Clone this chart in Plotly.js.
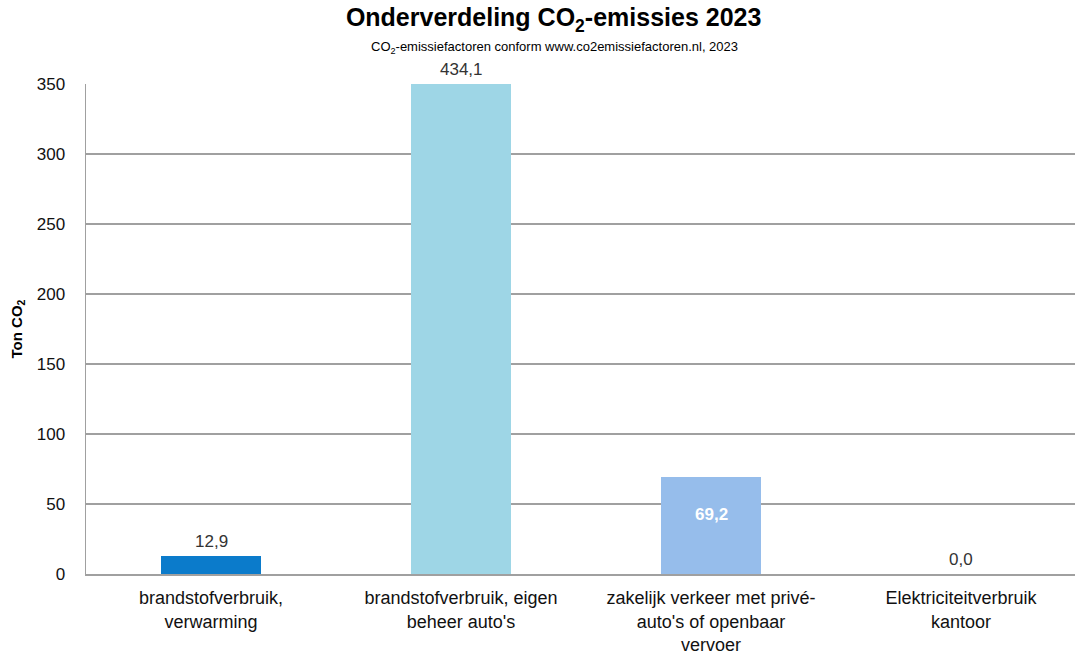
<!DOCTYPE html>
<html>
<head>
<meta charset="utf-8">
<script src="https://cdn.plot.ly/plotly-3.0.1.min.js"></script>
<style>html,body{margin:0;padding:0;background:#fff;}#chart{width:1075px;height:657px;}</style>
</head>
<body>
<div id="chart"></div>
<script>
var categories = [
  "brandstofverbruik,<br>verwarming",
  "brandstofverbruik, eigen<br>beheer auto's",
  "zakelijk verkeer met privé-<br>auto's of openbaar<br>vervoer",
  "Elektriciteitverbruik<br>kantoor"
];
var values = [12.9, 434.1, 69.2, 0.0];
var barColors = ["#0B7BCB", "#9ED6E6", "#96BDEB", "#96BDEB"];
var labelInside = [false, false, true, false];
var yMax = 350;
var yTicks = [0, 50, 100, 150, 200, 250, 300, 350];

var fontFam = "Liberation Sans, Arial, sans-serif";
function fmt(v){ return v.toFixed(1).replace(".", ","); }

var annotations = values.map(function(v, i){
  var inside = labelInside[i];
  return {
    x: categories[i], y: Math.min(v, yMax), xref: "x", yref: "y",
    text: inside ? "<b>" + fmt(v) + "</b>" : fmt(v),
    showarrow: false,
    yanchor: inside ? "top" : "bottom",
    yshift: inside ? -26 : 3,
    font: {family: fontFam, size: 17, color: inside ? "#ffffff" : "#333333"}
  };
});
annotations.push({
  xref: "paper", yref: "paper", x: 0.474, y: 1, yanchor: "bottom", yshift: 26,
  xanchor: "center", showarrow: false,
  text: "CO<sub>2</sub>-emissiefactoren conform www.co2emissiefactoren.nl, 2023",
  font: {family: fontFam, size: 13, color: "#000"}
});

var trace = {
  type: "bar",
  x: categories,
  y: values,
  width: 0.4,
  marker: {color: barColors, line: {width: 0}},
  hoverinfo: "skip"
};

var layout = {
  width: 1075, height: 657,
  margin: {l: 86, r: 0, t: 84, b: 83},
  paper_bgcolor: "#fff", plot_bgcolor: "#fff",
  showlegend: false,
  font: {family: fontFam, color: "#333333"},
  title: {
    text: "<b>Onderverdeling CO<sub>2</sub>-emissies 2023</b>",
    x: 0.515, xanchor: "center", xref: "container", y: 0.973, yanchor: "middle",
    font: {family: fontFam, size: 25, color: "#000"}
  },
  xaxis: {
    type: "category",
    range: [-0.5, 3.456],
    showline: true, linecolor: "#a0a0a0", linewidth: 1.5,
    showgrid: false, zeroline: false,
    ticks: "outside", ticklen: 7, tickcolor: "rgba(0,0,0,0)",
    tickfont: {family: fontFam, size: 18, color: "#111"}
  },
  yaxis: {
    range: [0, yMax],
    tickmode: "array", tickvals: yTicks, ticktext: yTicks.map(String),
    showline: true, linecolor: "#a0a0a0", linewidth: 1.5,
    showgrid: true, gridcolor: "#a0a0a0", gridwidth: 1.5,
    zeroline: false,
    ticks: "outside", ticklen: 16, tickcolor: "rgba(0,0,0,0)",
    tickfont: {family: fontFam, size: 17, color: "#111"},
    title: {text: "<b>Ton CO<sub>2</sub></b>", standoff: 10,
            font: {family: fontFam, size: 15, color: "#000"}}
  },
  annotations: annotations
};

Plotly.newPlot("chart", [trace], layout, {displayModeBar: false, staticPlot: true});
</script>
</body>
</html>
